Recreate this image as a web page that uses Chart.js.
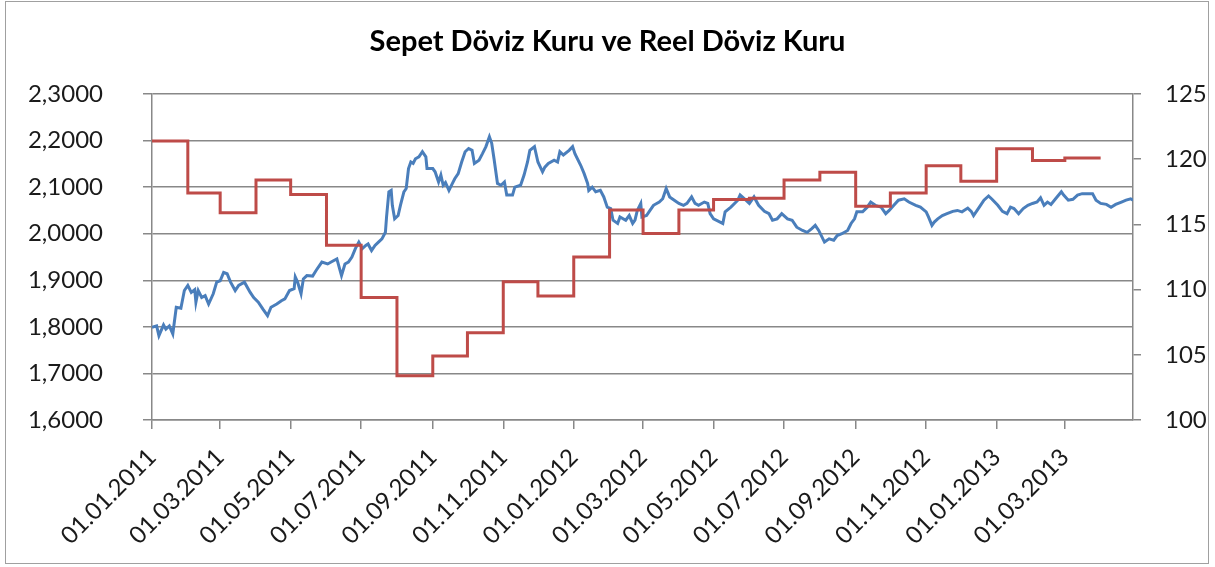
<!DOCTYPE html>
<html><head><meta charset="utf-8">
<script src="https://cdn.jsdelivr.net/npm/chart.js@4"></script>
<style>html,body{margin:0;padding:0;background:#fff}#wrap{position:relative;width:1215px;height:567px}</style>
</head><body><div id="wrap"><canvas id="c"></canvas></div>
<script>
const chartTitle = 'Sepet Döviz Kuru ve Reel Döviz Kuru';
const xTickLabels = ['01.01.2011','01.03.2011','01.05.2011','01.07.2011','01.09.2011','01.11.2011','01.01.2012','01.03.2012','01.05.2012','01.07.2012','01.09.2012','01.11.2012','01.01.2013','01.03.2013'];
// Sepet döviz kuru (left axis): days since 01.01.2011 and values
const blueDays = [0,4,6,10,12,15,18,21,25,28,31,34,37,38,40,43,46,49,53,56,59,62,65,68,72,75,80,85,88,92,96,100,103,108,112,115,119,123,124,126,129,131,134,139,142,147,152,157,160,164,167,170,173,176,179,182,185,187,190,193,196,199,202,203,205,207,208,210,213,215,218,220,222,224,226,228,231,234,237,238,243,245,248,250,252,254,257,260,262,265,268,271,274,277,279,283,286,289,292,294,296,299,302,305,307,312,314,319,322,325,327,331,334,338,340,343,348,351,353,356,361,364,366,371,374,377,378,381,384,388,391,394,397,399,403,405,410,413,416,418,420,423,424,428,431,434,439,442,445,448,452,456,460,463,467,470,473,478,481,483,486,490,494,496,501,507,509,514,517,521,525,530,534,537,541,545,550,554,558,563,567,571,574,577,582,586,590,593,597,602,605,608,610,615,619,622,626,631,635,638,642,646,651,655,661,665,670,672,675,677,680,684,688,693,697,701,706,709,711,716,720,724,727,732,736,740,743,746,750,754,758,762,766,769,772,775,778,782,787,789,793,797,801,805,810,814,817,821,826,830,834,839,843,847,849];
const blueValues = [1.799,1.802,1.781,1.804,1.795,1.802,1.785,1.842,1.840,1.878,1.889,1.874,1.880,1.853,1.878,1.863,1.867,1.849,1.871,1.896,1.899,1.917,1.914,1.896,1.878,1.889,1.896,1.874,1.863,1.853,1.838,1.824,1.842,1.849,1.856,1.860,1.878,1.882,1.907,1.896,1.871,1.903,1.910,1.909,1.921,1.939,1.935,1.942,1.946,1.910,1.935,1.939,1.950,1.968,1.982,1.968,1.975,1.978,1.964,1.975,1.982,1.989,2.003,2.036,2.090,2.093,2.061,2.032,2.039,2.061,2.090,2.097,2.140,2.154,2.151,2.161,2.165,2.176,2.165,2.140,2.140,2.133,2.111,2.126,2.104,2.110,2.093,2.108,2.118,2.129,2.154,2.176,2.183,2.179,2.151,2.158,2.172,2.187,2.208,2.194,2.161,2.108,2.104,2.111,2.083,2.083,2.100,2.104,2.126,2.154,2.179,2.187,2.154,2.133,2.143,2.151,2.158,2.154,2.176,2.169,2.179,2.187,2.172,2.147,2.129,2.108,2.093,2.100,2.090,2.093,2.079,2.057,2.054,2.029,2.022,2.036,2.029,2.039,2.022,2.029,2.050,2.065,2.036,2.039,2.050,2.061,2.068,2.075,2.097,2.079,2.072,2.065,2.061,2.065,2.079,2.065,2.061,2.068,2.065,2.043,2.032,2.027,2.022,2.047,2.057,2.072,2.083,2.072,2.065,2.079,2.061,2.048,2.043,2.029,2.032,2.043,2.032,2.029,2.014,2.007,2.003,2.011,2.018,2.007,1.982,1.989,1.986,1.996,2.000,2.007,2.022,2.032,2.047,2.047,2.057,2.068,2.061,2.057,2.043,2.050,2.061,2.072,2.075,2.068,2.061,2.057,2.047,2.036,2.018,2.025,2.032,2.039,2.043,2.048,2.050,2.047,2.055,2.048,2.039,2.057,2.072,2.081,2.074,2.061,2.048,2.043,2.057,2.054,2.043,2.054,2.061,2.065,2.068,2.077,2.061,2.068,2.063,2.075,2.090,2.083,2.072,2.074,2.083,2.086,2.086,2.086,2.072,2.065,2.063,2.057,2.063,2.068,2.072,2.075,2.072];
// Reel döviz kuru (right axis): monthly values
const redMonths = ['2011-01','2011-02','2011-03','2011-04','2011-05','2011-06','2011-07','2011-08','2011-09','2011-10','2011-11','2011-12','2012-01','2012-02','2012-03','2012-04','2012-05','2012-06','2012-07','2012-08','2012-09','2012-10','2012-11','2012-12','2013-01','2013-02','2013-03'];
const redValues = [121.4,117.4,115.9,118.4,117.3,113.4,109.4,103.4,104.9,106.7,110.6,109.5,112.5,116.1,114.3,116.1,116.9,117.0,118.4,119.0,116.4,117.4,119.5,118.3,120.8,119.9,120.1];

function dayOf(y, m, d) { return (Date.UTC(y, m - 1, d) - Date.UTC(2011, 0, 1)) / 864e5; }
const tickDays = xTickLabels.map(s => { const p = s.split('.').map(Number); return dayOf(p[2], p[1], p[0]); });
const redPoints = redMonths.map((s, i) => { const p = s.split('-').map(Number); return { x: dayOf(p[0], p[1], 1), y: redValues[i] }; });
const lastM = redMonths[redMonths.length - 1].split('-').map(Number);
redPoints.push({ x: dayOf(lastM[0], lastM[1] + 1, 1), y: redValues[redValues.length - 1] });
const bluePoints = blueDays.map((d, i) => ({ x: d, y: blueValues[i] }));

const GRAY = '#888888';
const FONT = 'Lato';

const frame = {
  id: 'frame',
  beforeDraw(chart) {
    const ctx = chart.ctx;
    ctx.save();
    ctx.fillStyle = '#fff';
    ctx.fillRect(0, 0, chart.width, chart.height);
    ctx.strokeStyle = '#a0a0a0';
    ctx.lineWidth = 1;
    ctx.strokeRect(5.5, 1.5, 1203, 562);
    ctx.restore();
  }
};

new Chart(document.getElementById('c'), {
  type: 'line',
  data: {
    datasets: [
      { label: 'Reel Döviz Kuru', data: redPoints, yAxisID: 'y2', borderColor: '#BE4B48', borderWidth: 3, pointRadius: 0, stepped: 'before', order: 0, fill: false },
      { label: 'Sepet Döviz Kuru', data: bluePoints, yAxisID: 'y', borderColor: '#4A7EBB', borderWidth: 3, pointRadius: 0, tension: 0, order: 1, fill: false }
    ]
  },
  options: {
    responsive: true,
    maintainAspectRatio: false,
    animation: false,
    events: [],
    layout: { padding: 0 },
    plugins: {
      legend: { display: false },
      tooltip: { enabled: false },
      title: {
        display: true, text: chartTitle, color: '#000',
        font: { family: FONT, size: 29, weight: 'bold', lineHeight: 1.2 },
        padding: { top: 24, bottom: 35.2 }
      }
    },
    scales: {
      x: {
        type: 'linear', min: 0, max: 849,
        afterBuildTicks: a => { a.ticks = tickDays.map(v => ({ value: v })); },
        afterFit: a => { a.height = 147; },
        ticks: {
          autoSkip: false, minRotation: 45, maxRotation: 45, padding: 14,
          color: '#1a1a1a', font: { family: FONT, size: 24 },
          callback: (v, i) => xTickLabels[i]
        },
        grid: { drawOnChartArea: false, color: GRAY, tickLength: 9, lineWidth: 1.5 },
        border: { color: GRAY, width: 1.5 }
      },
      y: {
        position: 'left', min: 1.6, max: 2.3,
        afterFit: a => { a.width = 152; },
        ticks: {
          stepSize: 0.1, padding: 40, color: '#1a1a1a', font: { family: FONT, size: 24 },
          callback: v => Number(v).toFixed(4).replace('.', ',')
        },
        grid: { color: GRAY, tickLength: 9, lineWidth: 1.5 },
        border: { color: GRAY, width: 1.5 }
      },
      y2: {
        position: 'right', min: 100, max: 125,
        afterFit: a => { a.width = 82; },
        ticks: { stepSize: 5, padding: 24, color: '#1a1a1a', font: { family: FONT, size: 24 } },
        grid: { drawOnChartArea: false, color: GRAY, tickLength: 8, lineWidth: 1.5 },
        border: { color: GRAY, width: 1.5 }
      }
    }
  },
  plugins: [frame]
});
</script></body></html>
